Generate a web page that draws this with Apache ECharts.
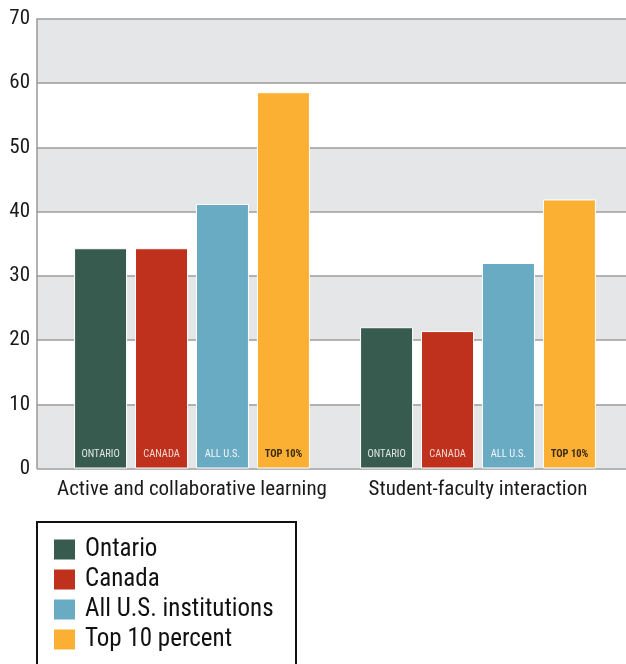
<!DOCTYPE html>
<html>
<head>
<meta charset="utf-8">
<script src="https://cdn.jsdelivr.net/npm/echarts@6/dist/echarts.min.js"></script>
<style>
  html, body { margin: 0; padding: 0; background: #fff; }
  #chart { width: 626px; height: 664px; }
</style>
</head>
<body>
<div id="chart"></div>
<script>
// Survey engagement scores by comparison group
const categories = ['Active and collaborative learning', 'Student-faculty interaction'];
const seriesNames = ['Ontario', 'Canada', 'All U.S. institutions', 'Top 10 percent'];
const barTags = ['ONTARIO', 'CANADA', 'ALL U.S.', 'TOP 10%'];
const ontario = [34.3, 22.0];
const canada = [34.3, 21.4];
const allUS = [41.2, 32.0];
const top10 = [58.6, 41.9];
const yTicks = [0, 10, 20, 30, 40, 50, 60, 70];

const values = [ontario, canada, allUS, top10];
const colors = ['#375b4f', '#bf311c', '#6aabc4', '#fbb034'];
const tagColors = ['#dfe6e3', '#f4d8d2', '#eef6f9', '#3a2a10'];
// Roboto with a condensed stretch; the stretch keyword rides in the font-style slot
const FONT = 'Roboto, sans-serif';
const STRETCH = 'condensed';

const chart = echarts.init(document.getElementById('chart'), null, { renderer: 'canvas' });

const plotTop = 19, plotBottom = 664 - 468.5;

const option = {
  animation: false,
  backgroundColor: '#ffffff',
  color: colors,
  grid: [
    // background grid: bands, gridlines and the value axis
    { left: 37, right: 0, top: plotTop, bottom: plotBottom, containLabel: false },
    // grid holding the bars
    { left: 49, right: 5, top: plotTop, bottom: plotBottom, containLabel: false }
  ],
  xAxis: [
    { gridIndex: 0, type: 'value', min: 0, max: 1, show: false },
    {
      gridIndex: 1, type: 'category', data: categories,
      axisLine: { show: false }, axisTick: { show: false },
      axisLabel: {
        interval: 0, fontFamily: FONT, fontStyle: STRETCH, fontSize: 21,
        color: '#1a1a1a', margin: 11
      }
    }
  ],
  yAxis: [
    {
      gridIndex: 0, type: 'value', min: yTicks[0], max: yTicks[yTicks.length - 1], interval: 10,
      axisLine: { show: true, lineStyle: { color: '#999999', width: 1.5 } },
      axisTick: { show: false },
      axisLabel: { fontFamily: FONT, fontStyle: STRETCH, fontSize: 21, color: '#1a1a1a', margin: 7 },
      splitLine: { show: true, lineStyle: { color: '#9d9d9d', width: 1.5 } },
      splitArea: { show: true, areaStyle: { color: ['#e5e6e8', '#ffffff'] } }
    },
    { gridIndex: 1, type: 'value', min: 0, max: 70, show: false, splitLine: { show: false } }
  ],
  legend: {
    orient: 'vertical',
    left: 52, top: 537,
    padding: 0,
    icon: 'rect',
    itemWidth: 23, itemHeight: 22, itemGap: 5,
    data: seriesNames,
    selectedMode: false,
    textStyle: {
      fontFamily: FONT, fontStyle: STRETCH, fontSize: 25, color: '#111111',
      lineHeight: 22, padding: [0, 0, 0, 4]
    }
  },
  graphic: [
    {
      type: 'rect', z: 10,
      shape: { x: 37, y: 522, width: 259, height: 170 },
      style: { fill: 'none', stroke: '#111111', lineWidth: 2 }
    }
  ],
  series: seriesNames.map((name, i) => ({
    name: name,
    type: 'bar',
    xAxisIndex: 1, yAxisIndex: 1,
    data: values[i],
    barWidth: 53,
    barGap: '15%',
    itemStyle: { color: colors[i], borderColor: '#ffffff', borderWidth: 1 },
    label: {
      show: true, position: 'insideBottom', distance: 9,
      formatter: () => barTags[i],
      fontFamily: FONT, fontStyle: STRETCH, fontSize: 10.5,
      fontWeight: i === 3 ? 'bold' : 'normal',
      color: tagColors[i]
    }
  }))
};

chart.setOption(option);
</script>
</body>
</html>
